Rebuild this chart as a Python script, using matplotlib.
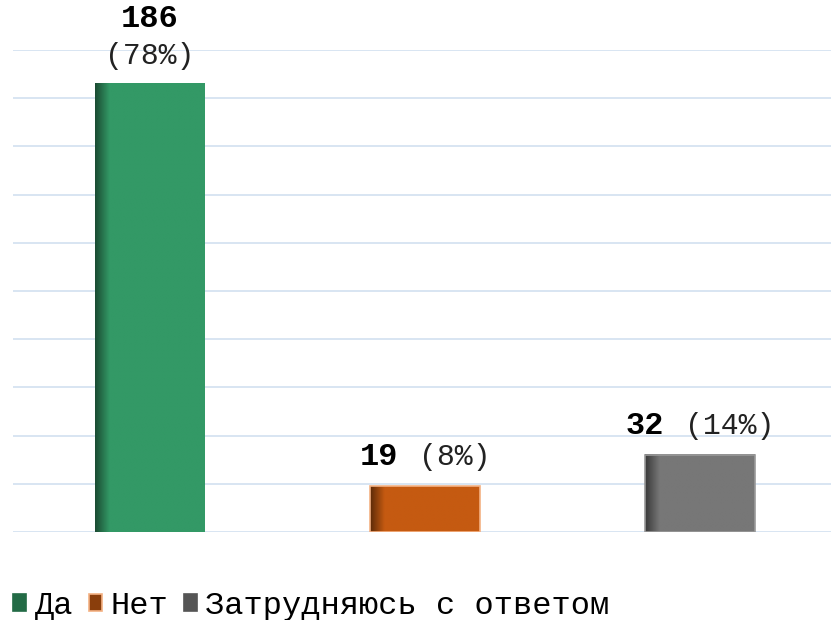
import numpy as np
import matplotlib
matplotlib.use("Agg")
import matplotlib.pyplot as plt
from matplotlib.colors import to_rgb
from matplotlib.patches import Patch
from matplotlib.offsetbox import TextArea, HPacker, AnnotationBbox

# данные
categories = ["Да", "Нет", "Затрудняюсь с ответом"]
counts = [186, 19, 32]
percents = ["(78%)", "(8%)", "(14%)"]
colors = ["#339966", "#c55a11", "#777777"]
dark_colors = ["#1b4d33", "#5e2b08", "#3a3a3a"]
edge_colors = ["none", "#f4b183", "#999999"]

FONT = "Liberation Mono"

fig = plt.figure(figsize=(8.31, 6.2), dpi=100)
ax = fig.add_axes([12.5 / 831, 88 / 620, 825 / 831, 482 / 620])

ax.set_xlim(-0.5, 2.5)
ax.set_ylim(0, 200)
ax.set_yticks(np.arange(0, 201, 20))
ax.grid(axis="y", color="#d2e0f0", linewidth=1.2)
ax.set_axisbelow(True)
for s in ax.spines.values():
    s.set_visible(False)
ax.set_xticks([])
ax.tick_params(left=False, labelleft=False)

w = 0.40
x = np.arange(len(categories))
for xi, v, c, dc, ec in zip(x, counts, colors, dark_colors, edge_colors):
    # градиент слева на столбике
    n = 100
    base = np.array(to_rgb(c))
    dark = np.array(to_rgb(dc))
    t = np.clip(np.linspace(0, 1, n) / 0.13, 0, 1)[:, None]
    grad = dark * (1 - t) + base * t
    img = np.repeat(grad[None, :, :], 2, axis=0)
    ax.imshow(img, extent=(xi - w / 2, xi + w / 2, 0, v), aspect="auto",
              interpolation="bilinear", zorder=2)
    ax.bar(xi, v, width=w, facecolor="none", edgecolor=ec, linewidth=1.2, zorder=3)

ax.set_xlim(-0.5, 2.5)
ax.set_ylim(0, 200)

# подписи
ax.annotate(str(counts[0]), (x[0], counts[0]), xytext=(0, 36), textcoords="offset points",
            ha="center", va="bottom", fontsize=23, fontweight="bold", family=FONT)
ax.annotate(percents[0], (x[0], counts[0]), xytext=(0, 10), textcoords="offset points",
            ha="center", va="bottom", fontsize=21.5, family=FONT, color="#222222")
for xi, v, p in zip(x[1:], counts[1:], percents[1:]):
    ta1 = TextArea(str(v), textprops=dict(fontsize=23, fontweight="bold", family=FONT))
    ta2 = TextArea(p, textprops=dict(fontsize=21.5, family=FONT, color="#222222"))
    box = HPacker(children=[ta1, ta2], align="baseline", pad=0, sep=15)
    ab = AnnotationBbox(box, (xi, v), xybox=(0, 10), xycoords="data",
                        boxcoords="offset points", box_alignment=(0.5, 0),
                        frameon=False, annotation_clip=False)
    ax.add_artist(ab)

handles = [Patch(facecolor=dc, edgecolor=(ec if ec != "none" else dc), linewidth=1.2)
           for dc, ec in zip(["#236b46", "#8a3e0c", "#555555"], ["none", "#f4b183", "none"])]
fig.legend(handles, categories, loc="lower left", bbox_to_anchor=(0.008, -0.012),
           ncol=3, frameon=False, prop=dict(family=FONT, size=23),
           handlelength=0.42, handleheight=0.42, handletextpad=0.25,
           columnspacing=0.5, borderpad=0.2, borderaxespad=0)

fig.savefig("out.png", dpi=100)
